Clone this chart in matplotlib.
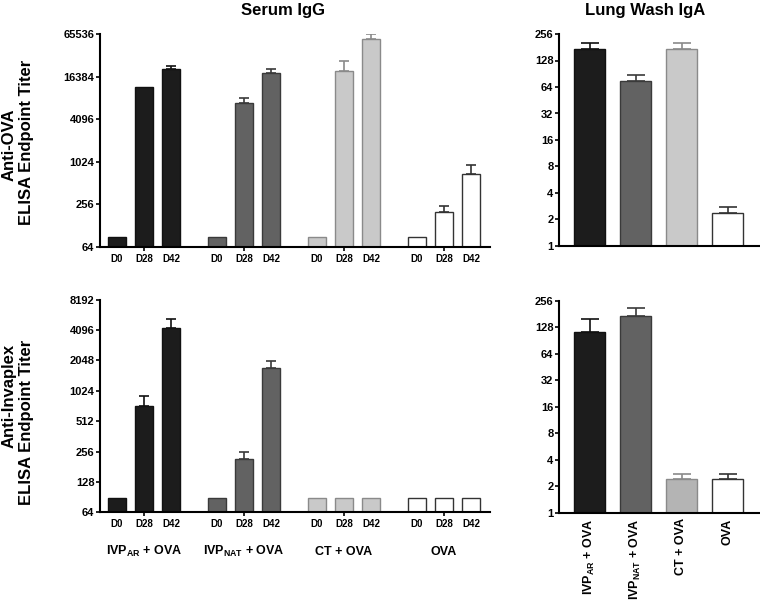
import matplotlib
matplotlib.use("Agg")
import matplotlib.pyplot as plt
import numpy as np
from matplotlib.transforms import blended_transform_factory

plt.rcParams['font.family'] = ['Liberation Sans', 'DejaVu Sans']
plt.rcParams['font.weight'] = 'bold'
plt.rcParams['mathtext.fontset'] = 'custom'
plt.rcParams['mathtext.rm'] = 'Liberation Sans:bold'
plt.rcParams['mathtext.bf'] = 'Liberation Sans:bold'
plt.rcParams['mathtext.it'] = 'Liberation Sans:bold'

# ---------------- data ----------------
groups = [r'$\mathbf{IVP_{AR}}$ + OVA', r'$\mathbf{IVP_{NAT}}$ + OVA', 'CT + OVA', 'OVA']
days = ['D0', 'D28', 'D42']

# Serum IgG, anti-OVA (per group: D0, D28, D42)
ova_serum_AR = [90, 11650, 21000]
ova_serum_NAT = [90, 6940, 18400]
ova_serum_CT = [90, 19650, 55800]
ova_serum_OVA = [90, 200, 690]
ova_serum_err_AR = [0, 0, 2200]
ova_serum_err_NAT = [0, 1100, 2900]
ova_serum_err_CT = [0, 7150, 9700]
ova_serum_err_OVA = [0, 43, 232]

# Serum IgG, anti-Invaplex
inv_serum_AR = [89, 719, 4310]
inv_serum_NAT = [89, 214, 1720]
inv_serum_CT = [89, 89, 89]
inv_serum_OVA = [89, 89, 89]
inv_serum_err_AR = [0, 194, 940]
inv_serum_err_NAT = [0, 37, 300]
inv_serum_err_CT = [0, 0, 0]
inv_serum_err_OVA = [0, 0, 0]

# Lung wash IgA
ova_lung = [175, 75.6, 175, 2.37]
ova_lung_err = [29, 11.4, 29, 0.40]
inv_lung = [115, 172, 2.4, 2.4]
inv_lung_err = [46, 42, 0.38, 0.38]

ova_ticks = [64, 256, 1024, 4096, 16384, 65536]
inv_ticks = [64, 128, 256, 512, 1024, 2048, 4096, 8192]
lung_ticks = [1, 2, 4, 8, 16, 32, 64, 128, 256]

# ---------------- styles ----------------
fills = ['#1c1c1c', '#626262', '#c9c9c9', '#ffffff']
edges = ['#111111', '#3a3a3a', '#8a8a8a', '#333333']
fills_br = ['#1c1c1c', '#626262', '#b4b4b4', '#ffffff']

W, H = 760, 600
fig = plt.figure(figsize=(7.6, 6.0), dpi=100)

def ax_px(x0, y0, x1, y1):
    return fig.add_axes([x0 / W, 1 - y1 / H, (x1 - x0) / W, (y1 - y0) / H])

def style(ax, ticks):
    ax.set_yscale('log', base=2)
    ax.set_yticks(ticks)
    ax.set_yticklabels([str(t) for t in ticks], fontsize=8, fontweight='bold')
    ax.yaxis.set_minor_locator(matplotlib.ticker.NullLocator())
    ax.set_ylim(ticks[0], ticks[-1])
    for s in ['top', 'right']:
        ax.spines[s].set_visible(False)
    for s in ['left', 'bottom']:
        ax.spines[s].set_linewidth(1.5)
    ax.tick_params(axis='y', which='major', length=3, width=1.2, pad=1)

gap = 100 / 27.0
bw = 18.5 / 27.0

def serum_panel(ax, vals_list, errs_list, ticks, group_labels):
    style(ax, ticks)
    all_pos = []
    centers = []
    for g, (vals, errs) in enumerate(zip(vals_list, errs_list)):
        pos = g * gap + np.arange(len(vals))
        all_pos.extend(pos)
        centers.append(pos[1])
        ax.bar(pos, vals, width=bw, color=fills[g], edgecolor=edges[g], linewidth=1.0, zorder=2)
        e = np.array(errs, dtype=float)
        mask = e > 0
        if mask.any():
            ax.errorbar(pos[mask], np.array(vals)[mask], yerr=[np.zeros(mask.sum()), e[mask]],
                        fmt='none', ecolor=edges[g] if g != 0 else '#111111',
                        elinewidth=1.2, capsize=3.6, capthick=1.2, zorder=1)
    ax.set_xlim(-17 / 27.0, (490 - 117) / 27.0)
    ax.xaxis.remove_overlapping_locs = False
    ax.set_xticks(centers)
    ax.set_xticklabels([])
    ax.tick_params(axis='x', which='major', length=3, width=1.2)
    ax.set_xticks(all_pos, minor=True)
    ax.set_xticklabels(days * len(vals_list), minor=True, fontsize=7, fontweight='bold')
    ax.tick_params(axis='x', which='minor', length=0, pad=5)
    if group_labels:
        tr = blended_transform_factory(ax.transData, ax.transAxes)
        for c, lab in zip(centers, groups):
            ax.text(c, -0.185, lab, transform=tr, ha='center', va='center', fontsize=9, fontweight='bold')

def lung_panel(ax, vals, errs, cols, labels):
    style(ax, lung_ticks)
    pos = np.arange(len(vals))
    ax.bar(pos, vals, width=31 / 46.0, color=cols, edgecolor=edges, linewidth=1.0, zorder=2)
    for i in range(len(vals)):
        ax.errorbar([pos[i]], [vals[i]], yerr=[[0], [errs[i]]], fmt='none',
                    ecolor=edges[i] if i != 0 else '#111111',
                    elinewidth=1.2, capsize=6.5, capthick=1.2, zorder=1)
    ax.set_xlim(-30.5 / 46.0, (760 - 589.5) / 46.0)
    ax.set_xticks(pos)
    if labels:
        ax.set_xticklabels(groups, rotation=90, fontsize=9, fontweight='bold')
        ax.tick_params(axis='x', length=0, pad=4)
    else:
        ax.set_xticklabels([])
        ax.tick_params(axis='x', length=0)

ax1 = ax_px(100, 34, 490, 247)
serum_panel(ax1, [ova_serum_AR, ova_serum_NAT, ova_serum_CT, ova_serum_OVA],
            [ova_serum_err_AR, ova_serum_err_NAT, ova_serum_err_CT, ova_serum_err_OVA],
            ova_ticks, False)

ax2 = ax_px(559, 34, 760, 246)
lung_panel(ax2, ova_lung, ova_lung_err, fills, False)

ax3 = ax_px(100, 299.6, 490, 512.3)
serum_panel(ax3, [inv_serum_AR, inv_serum_NAT, inv_serum_CT, inv_serum_OVA],
            [inv_serum_err_AR, inv_serum_err_NAT, inv_serum_err_CT, inv_serum_err_OVA],
            inv_ticks, True)

ax4 = ax_px(559, 301, 760, 512.7)
lung_panel(ax4, inv_lung, inv_lung_err, fills_br, True)

# titles
fig.text(283 / W, 1 - 10 / H, 'Serum IgG', ha='center', va='center', fontsize=12, fontweight='bold')
fig.text(645 / W, 1 - 10 / H, 'Lung Wash IgA', ha='center', va='center', fontsize=12, fontweight='bold')

# y labels
fig.text(9 / W, 1 - 145 / H, 'Anti-OVA', rotation=90, ha='center', va='center', fontsize=12, fontweight='bold')
fig.text(27 / W, 1 - 142 / H, 'ELISA Endpoint Titer', rotation=90, ha='center', va='center', fontsize=12, fontweight='bold')
fig.text(9 / W, 1 - 396 / H, 'Anti-Invaplex', rotation=90, ha='center', va='center', fontsize=12, fontweight='bold')
fig.text(27 / W, 1 - 422 / H, 'ELISA Endpoint Titer', rotation=90, ha='center', va='center', fontsize=12, fontweight='bold')

fig.savefig('out.png', dpi=100)
